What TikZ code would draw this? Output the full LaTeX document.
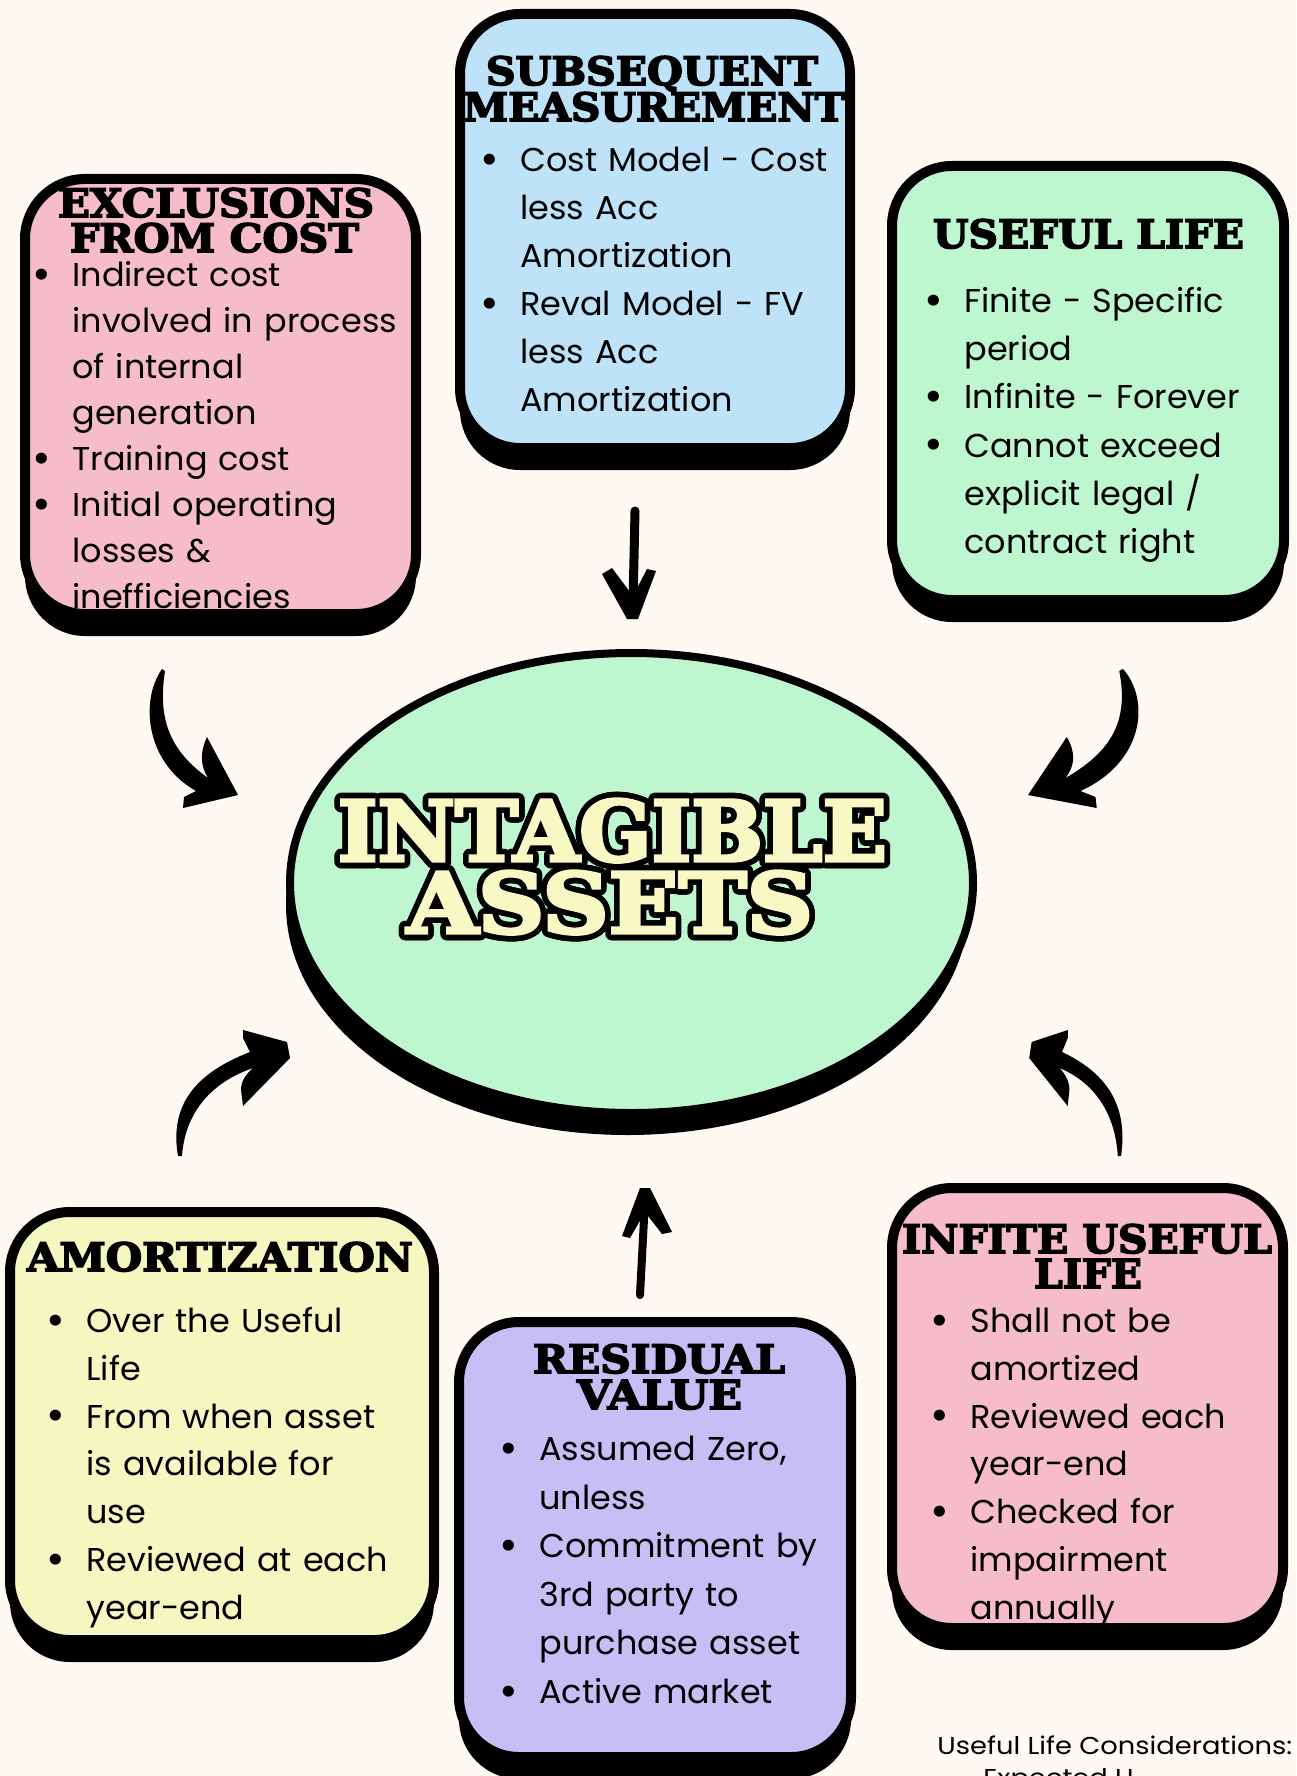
\documentclass[tikz,border=0pt]{standalone}
\usepackage{fontspec}
\setmainfont[FakeStretch=1.015]{Poppins}
\newfontfamily\notefont[FakeStretch=1.12]{Poppins}
\newfontfamily\dispfont[BoldFeatures={FakeBold=4}]{DejaVu Serif}
\usepackage{graphicx}
\usepackage[copies]{contour}
\usetikzlibrary{shapes.geometric,shadows}
\definecolor{bgc}{HTML}{FEF9F3}
\definecolor{pinkc}{HTML}{F7BCC9}
\definecolor{bluec}{HTML}{BEE3F8}
\definecolor{greenc}{HTML}{BDF6CF}
\definecolor{yellowc}{HTML}{F5F7C0}
\definecolor{purplec}{HTML}{C8BEF6}
\definecolor{creamc}{HTML}{F7F8C4}
\newcommand\ttl[2]{\resizebox{#1}{14.5pt}{\dispfont\bfseries #2}}
\newcommand\bul{\leavevmode\llap{\makebox[0pt][c]{\raisebox{-0.08em}{\scalebox{1.35}{\textbullet}}}\hspace{15.5pt}}}
\newcommand\fl{\rule{0pt}{20pt}}
\contourlength{2.8pt}
\contournumber{32}
\tikzset{
  box/.style={draw=black, line width=5pt, rounded corners=30pt, inner sep=0pt,
    drop shadow={shadow xshift=0pt, shadow yshift=-11pt, fill=black, opacity=1}},
  body/.style={anchor=north west, inner sep=0pt, text width=220pt, align=left,
    font=\fontsize{16.5pt}{24pt}\selectfont},
  ttlnode/.style={anchor=base, inner sep=0pt},
  bigttl/.style={anchor=base, inner sep=0pt},
  arrowfill/.style={fill=black}
}
\begin{document}
\begin{tikzpicture}[x=0.5pt,y=-0.5pt]
\useasboundingbox (0,0) rectangle (1296,1776);
\fill[bgc] (0,0) rectangle (1296,1776);

% boxes
\node[box, fill=pinkc, minimum width=195.5pt, minimum height=217.5pt] (excl) at (220.5,396.5) {};
\node[box, fill=bluec, minimum width=195pt, minimum height=217pt] (subs) at (655,231) {};
\node[box, fill=greenc, minimum width=196pt, minimum height=217pt] (useful) at (1088,383) {};
\node[box, fill=yellowc, minimum width=212pt, minimum height=214pt] (amort) at (222,1426) {};
\node[box, fill=purplec, minimum width=196pt, minimum height=217.5pt] (resid) at (655,1539.5) {};
\node[box, fill=pinkc, minimum width=195.5pt, minimum height=220pt] (infite) at (1087.5,1408) {};

% central ellipse
\node[ellipse, draw=black, line width=4pt, fill=greenc, inner sep=0pt,
  minimum width=341.5pt, minimum height=230pt,
  drop shadow={shadow xshift=-2pt, shadow yshift=-11pt, fill=black, opacity=1}] (center) at (631.5,883) {};
\node[bigttl] (ia) at (612.5,861)
  {\color{creamc}\contour{black}{\resizebox{274.5pt}{31pt}{\dispfont\bfseries INTAGIBLE}}};
\node[bigttl] (ib) at (610,933)
  {\color{creamc}\contour{black}{\resizebox{203pt}{31pt}{\dispfont\bfseries ASSETS}}};

% titles
\node[ttlnode] (t1a) at (216,217) {\ttl{158pt}{EXCLUSIONS}};
\node[ttlnode] (t1b) at (214.5,252) {\ttl{144.5pt}{FROM COST}};
\node[ttlnode] (t2a) at (652,85) {\ttl{166pt}{SUBSEQUENT}};
\node[ttlnode] (t2b) at (654,121) {\ttl{191pt}{MEASUREMENT}};
\node[ttlnode] (t3) at (1088.5,248) {\ttl{155.5pt}{USEFUL LIFE}};
\node[ttlnode] (t4) at (220,1271) {\ttl{193pt}{AMORTIZATION}};
\node[ttlnode] (t5a) at (659,1373) {\ttl{126pt}{RESIDUAL}};
\node[ttlnode] (t5b) at (659.5,1409) {\ttl{82.5pt}{VALUE}};
\node[ttlnode] (t6a) at (1087,1253) {\ttl{185pt}{INFITE USEFUL}};
\node[ttlnode] (t6b) at (1088,1288) {\ttl{54pt}{LIFE}};

% bodies
\node[body, font=\fontsize{16.5pt}{23pt}\selectfont] (b1) at (72,246)
  {\fl\bul Indirect cost\\ involved in process\\ of internal\\ generation\\
   \bul Training cost\\ \bul Initial operating\\ losses \&\\ inefficiencies};
\node[body] (b2) at (520,131)
  {\fl\bul Cost Model - Cost\\ less Acc\\ Amortization\\
   \bul Reval Model - FV\\ less Acc\\ Amortization};
\node[body, font=\fontsize{16.5pt}{24.1pt}\selectfont] (b3) at (964,272)
  {\fl\bul Finite - Specific\\ period\\ \bul Infinite - Forever\\
   \bul Cannot exceed\\ explicit legal /\\ contract right};
\node[body, font=\fontsize{16.5pt}{23.9pt}\selectfont] (b4) at (86,1292)
  {\fl\bul Over the Useful\\ Life\\ \bul From when asset\\ is available for\\ use\\
   \bul Reviewed at each\\ year-end};
\node[body, font=\fontsize{16.5pt}{24.3pt}\selectfont] (b5) at (539,1420)
  {\fl\bul Assumed Zero,\\ unless\\ \bul Commitment by\\ 3rd party to\\
   purchase asset\\ \bul Active market};
\node[body, font=\fontsize{16.5pt}{23.9pt}\selectfont] (b6) at (970,1292)
  {\fl\bul Shall not be\\ amortized\\ \bul Reviewed each\\ year-end\\
   \bul Checked for\\ impairment\\ annually};

% footnote
\node[anchor=base west, inner sep=0pt, font=\notefont\fontsize{12.2pt}{16pt}\selectfont] (note) at (937,1754) {Useful Life Considerations:};
\node[anchor=base west, inner sep=0pt, font=\notefont\fontsize{12.2pt}{16pt}\selectfont] (note2) at (983,1786) {Expected U};

% vertical arrows
\draw[line width=4.5pt, line cap=round] (635,511) -- (633,605);
\fill[arrowfill] (602,574) -- (612,568) -- (633,596) -- (647,569) -- (656,571) -- (638,619) -- (627,619) -- cycle;
\draw[line width=4pt, line cap=round] (640,1295) -- (645,1200);
\fill[arrowfill] (640,1188) -- (650,1188) -- (672,1232) -- (662,1234) -- (645,1212) -- (630,1238) -- (622,1236) -- cycle;

% curved arrows: top left
\fill[arrowfill] (162,669) .. controls (140,700) and (145,762) .. (196,791) -- (184,797) -- (183,808) -- (238,795) -- (207,737)
  .. controls (200,752) and (200,765) .. (208,778) .. controls (172,752) and (157,722) .. (165,671) -- cycle;
% top right (mirrored)
\begin{scope}[cm={-1.25,0,0,1,(1325.5,0)}]
\fill[arrowfill] (162,669) .. controls (140,700) and (145,762) .. (196,791) -- (184,797) -- (183,808) -- (238,795) -- (207,737)
  .. controls (200,752) and (200,765) .. (208,778) .. controls (172,752) and (157,722) .. (165,671) -- cycle;
\end{scope}
% bottom left
\fill[arrowfill] (178,1156) .. controls (170,1110) and (190,1075) .. (250,1052) -- (243,1038) -- (243,1030) -- (287,1042) -- (290,1058)
  -- (243,1106) -- (241,1090) .. controls (241,1082) and (245,1075) .. (253,1068) .. controls (212,1082) and (185,1112) .. (182,1156) -- cycle;
% bottom right (mirrored)
\begin{scope}[cm={-0.82,0,0,1,(1267,0)}]
\fill[arrowfill] (178,1156) .. controls (170,1110) and (190,1075) .. (250,1052) -- (243,1038) -- (243,1030) -- (287,1042) -- (290,1058)
  -- (243,1106) -- (241,1090) .. controls (241,1082) and (245,1075) .. (253,1068) .. controls (212,1082) and (185,1112) .. (182,1156) -- cycle;
\end{scope}
\end{tikzpicture}
\end{document}
